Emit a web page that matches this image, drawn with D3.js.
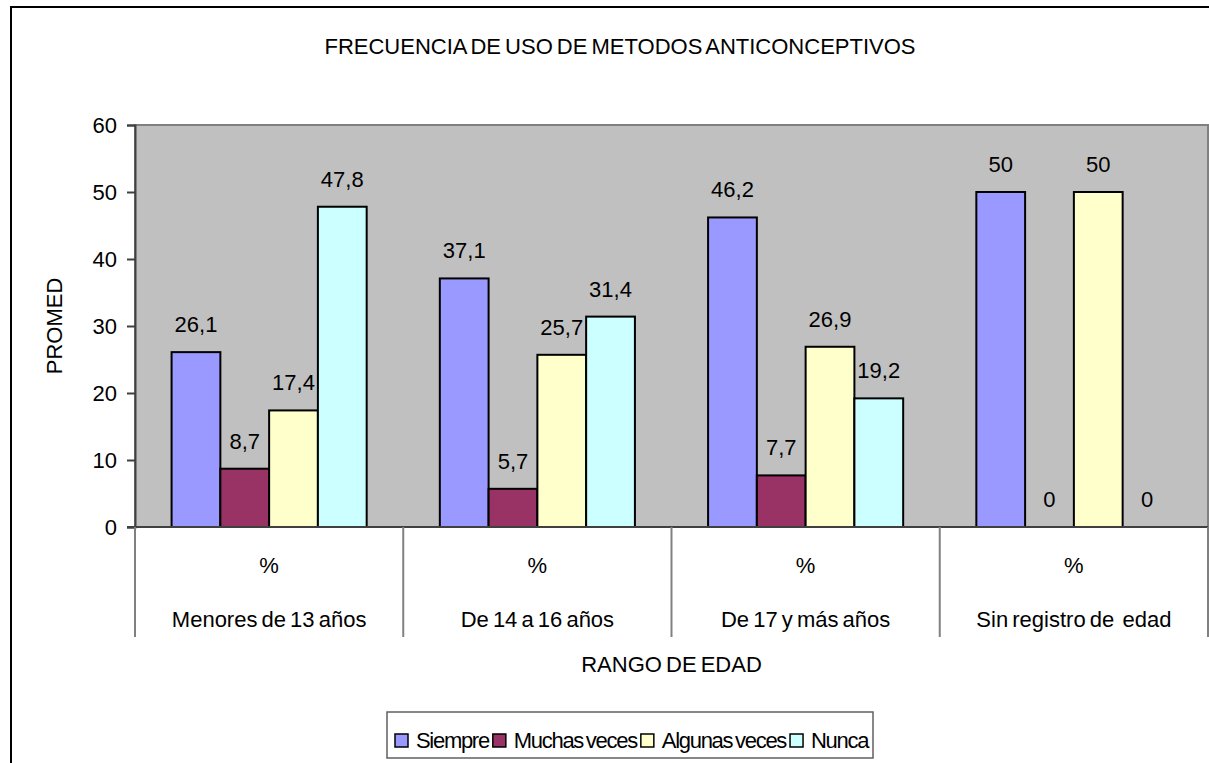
<!DOCTYPE html>
<html>
<head>
<meta charset="utf-8">
<script src="https://cdn.jsdelivr.net/npm/d3@7"></script>
<style>
  html, body { margin: 0; padding: 0; background: #fff; }
  svg text { font-family: "Liberation Sans", Arial, sans-serif; fill: #000; }
</style>
</head>
<body>
<svg id="chart" width="1209" height="763"></svg>
<script>
const categories = ["Menores de 13 años", "De 14 a 16 años", "De 17 y más años", "Sin registro de  edad"];
const subLabel = "%";
const seriesNames = ["Siempre", "Muchas veces", "Algunas veces", "Nunca"];
const siempre = [26.1, 37.1, 46.2, 50];
const muchasVeces = [8.7, 5.7, 7.7, 0];
const algunasVeces = [17.4, 25.7, 26.9, 50];
const nunca = [47.8, 31.4, 19.2, 0];
const seriesColors = ["#9999FF", "#993366", "#FFFFCC", "#CCFFFF"];
const yTicks = [0, 10, 20, 30, 40, 50, 60];
const title = "FRECUENCIA DE USO DE METODOS ANTICONCEPTIVOS";
const xTitle = "RANGO DE EDAD";
const yTitle = "PROMED";

const seriesValues = [siempre, muchasVeces, algunasVeces, nunca];
const svg = d3.select("#chart");
const FS = 22;

// outer chart border
svg.append("rect").attr("x", 11).attr("y", 7).attr("width", 1400).attr("height", 900)
  .attr("fill", "#fff").attr("stroke", "#000").attr("stroke-width", 2);

const plot = { left: 135, right: 1208, top: 125, bottom: 527 };

const x0 = d3.scaleBand().domain(categories).range([plot.left, plot.right]).padding(0);
const x1 = d3.scaleBand().domain(seriesNames).range([0, x0.bandwidth()]).paddingInner(0).paddingOuter(0.75);
const y = d3.scaleLinear().domain([0, 60]).range([plot.bottom, plot.top]);

// plot area
svg.append("rect").attr("x", plot.left).attr("y", plot.top)
  .attr("width", plot.right - plot.left).attr("height", plot.bottom - plot.top)
  .attr("fill", "#C0C0C0").attr("stroke", "#808080").attr("stroke-width", 2);

// title
svg.append("text").attr("x", 620).attr("y", 54).attr("text-anchor", "middle")
  .attr("font-size", FS).attr("word-spacing", -2).text(title);

// bars
const fmt = v => String(v).replace(".", ",");
const groups = svg.append("g").selectAll("g").data(categories).join("g")
  .attr("transform", d => `translate(${x0(d)},0)`);
groups.each(function(cat, ci) {
  const g = d3.select(this);
  seriesNames.forEach((s, si) => {
    const v = seriesValues[si][ci];
    if (v > 0) {
      g.append("rect").attr("x", x1(s)).attr("y", y(v))
        .attr("width", x1.bandwidth()).attr("height", y(0) - y(v))
        .attr("fill", seriesColors[si]).attr("stroke", "#000").attr("stroke-width", 2);
    }
    g.append("text").attr("x", x1(s) + x1.bandwidth() / 2).attr("y", y(v) - 20)
      .attr("text-anchor", "middle").attr("font-size", FS).text(fmt(v));
  });
});

// y axis
const yAxis = d3.axisLeft(y).tickValues(yTicks).tickSize(8).tickPadding(10).tickFormat(d3.format("d"));
const yg = svg.append("g").attr("transform", `translate(${plot.left},0)`).call(yAxis);
yg.select(".domain").attr("stroke", "#404040").attr("stroke-width", 2);
yg.selectAll(".tick line").attr("stroke", "#404040").attr("stroke-width", 2);
yg.selectAll(".tick text").attr("font-size", FS).attr("font-family", "Liberation Sans, Arial, sans-serif").attr("fill", "#000");

// category axis
svg.append("line").attr("x1", plot.left - 8).attr("x2", plot.right).attr("y1", y(0)).attr("y2", y(0))
  .attr("stroke", "#404040").attr("stroke-width", 2);
const bounds = categories.map(c => x0(c)).concat([plot.right]);
svg.append("g").selectAll("line").data(bounds).join("line")
  .attr("x1", d => d).attr("x2", d => d).attr("y1", y(0)).attr("y2", 637)
  .attr("stroke", "#808080").attr("stroke-width", 2);
svg.append("g").selectAll("text").data(categories).join("text")
  .attr("x", d => x0(d) + x0.bandwidth() / 2).attr("y", 573).attr("text-anchor", "middle")
  .attr("font-size", FS).text(subLabel);
svg.append("g").selectAll("text").data(categories).join("text")
  .attr("x", d => x0(d) + x0.bandwidth() / 2).attr("y", 627).attr("text-anchor", "middle")
  .attr("font-size", FS).attr("word-spacing", -2).attr("xml:space", "preserve").style("white-space", "pre").text(d => d);

// axis titles
svg.append("text").attr("x", (plot.left + plot.right) / 2).attr("y", 672).attr("text-anchor", "middle")
  .attr("font-size", FS).attr("word-spacing", -2).text(xTitle);
svg.append("text").attr("transform", `translate(62,${(plot.top + plot.bottom) / 2}) rotate(-90)`)
  .attr("text-anchor", "middle").attr("font-size", FS).text(yTitle);

// legend
const lg = svg.append("g");
lg.append("rect").attr("x", 387).attr("y", 712).attr("width", 486).attr("height", 46)
  .attr("fill", "#fff").attr("stroke", "#606060").attr("stroke-width", 1.5);
let lx = 395;
seriesNames.forEach((s, i) => {
  lg.append("rect").attr("x", lx).attr("y", 734).attr("width", 13).attr("height", 13)
    .attr("fill", seriesColors[i]).attr("stroke", "#000").attr("stroke-width", 1.5);
  const t = lg.append("text").attr("x", lx + 21).attr("y", 748).attr("font-size", FS)
    .attr("letter-spacing", -1.3).attr("word-spacing", -2).text(s);
  lx += 21 + t.node().getComputedTextLength() + 4;
});
</script>
</body>
</html>
